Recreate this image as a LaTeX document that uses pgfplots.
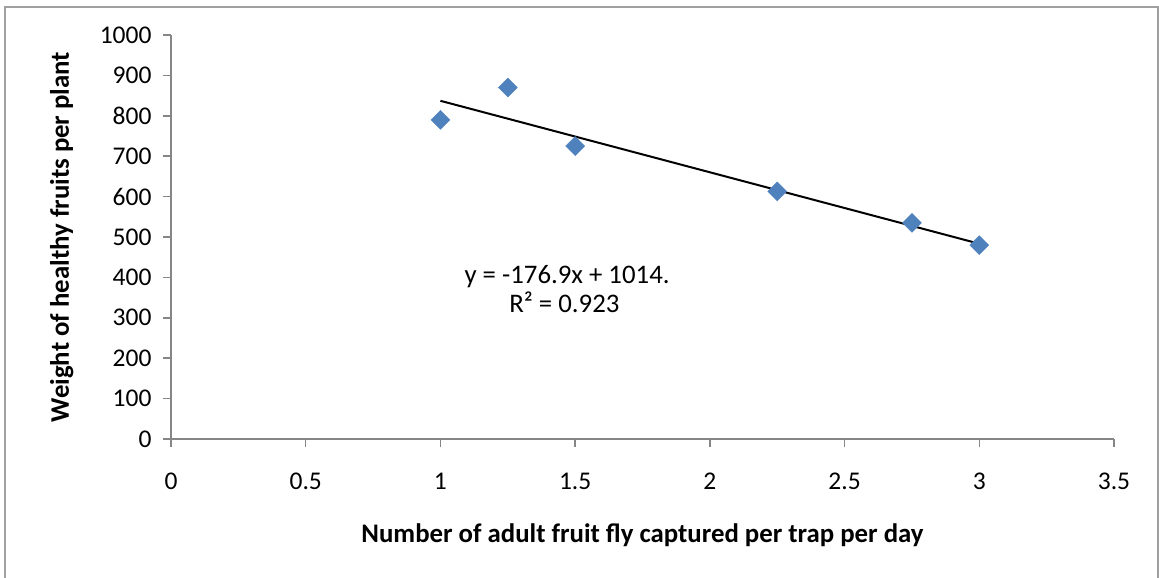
\documentclass[border=0pt]{standalone}
\usepackage{fontspec}
\setmainfont{Carlito}
\usepackage{pgfplots}
\pgfplotsset{compat=1.18}
\definecolor{axisgray}{HTML}{868686}
\definecolor{framegray}{HTML}{A0A0A0}
\definecolor{markblue}{HTML}{4F81BD}
\begin{document}
\begin{tikzpicture}
\useasboundingbox (0,0) rectangle (1159pt,578pt);
% chart area frame
\draw[framegray, line width=1.5pt] (5pt,-20pt) rectangle (1158pt,571pt);
\begin{axis}[
  at={(171pt,139pt)}, anchor=south west,
  scale only axis, width=943pt, height=404pt,
  xmin=0, xmax=3.5, ymin=0, ymax=1000,
  axis x line=bottom, axis y line=left,
  axis line style={-, draw=axisgray, line width=1.5pt},
  xtick={0,0.5,1,1.5,2,2.5,3,3.5},
  xticklabels={0,0.5,1,1.5,2,2.5,3,3.5},
  ytick={0,100,...,1000},
  yticklabel={\pgfmathprintnumber[1000 sep={}]{\tick}},
  tick align=outside, major tick length=8pt,
  tick style={axisgray, line width=1.5pt},
  /pgf/number format/assume math mode=true,
  ticklabel style={font=\fontsize{25.5}{30}\selectfont},
  xticklabel style={anchor=base, yshift=-42pt},
  yticklabel style={anchor=east, xshift=-8pt},
  label style={font=\fontsize{26.8}{32}\selectfont\bfseries},
  xlabel={Number of adult fruit fly captured per trap per day},
  xlabel style={at={(axis description cs:0.5,-0.2574)}, anchor=base},
  ylabel={Weight of healthy fruits per plant},
  ylabel style={at={(axis description cs:-0.1082,0.5)}, anchor=base},
  clip=false,
]
% observations
\addplot[only marks, mark=square*, mark size=6.7pt,
  mark options={rotate=45, fill=markblue, draw=markblue}]
  coordinates {(1,790) (1.25,870) (1.5,725) (2.25,613) (2.75,535) (3,480)};
% linear trend line y = -176.9x + 1014
\addplot[black, line width=2pt] coordinates {(1,837.1) (3,483.3)};
\node[anchor=base, font=\fontsize{26.8}{32}\selectfont] at (axis cs:1.47,386) {y = -176.9x + 1014.};
\node[anchor=base, font=\fontsize{26.8}{32}\selectfont] at (axis cs:1.46,312) {R² = 0.923};
\end{axis}
\end{tikzpicture}
\end{document}
